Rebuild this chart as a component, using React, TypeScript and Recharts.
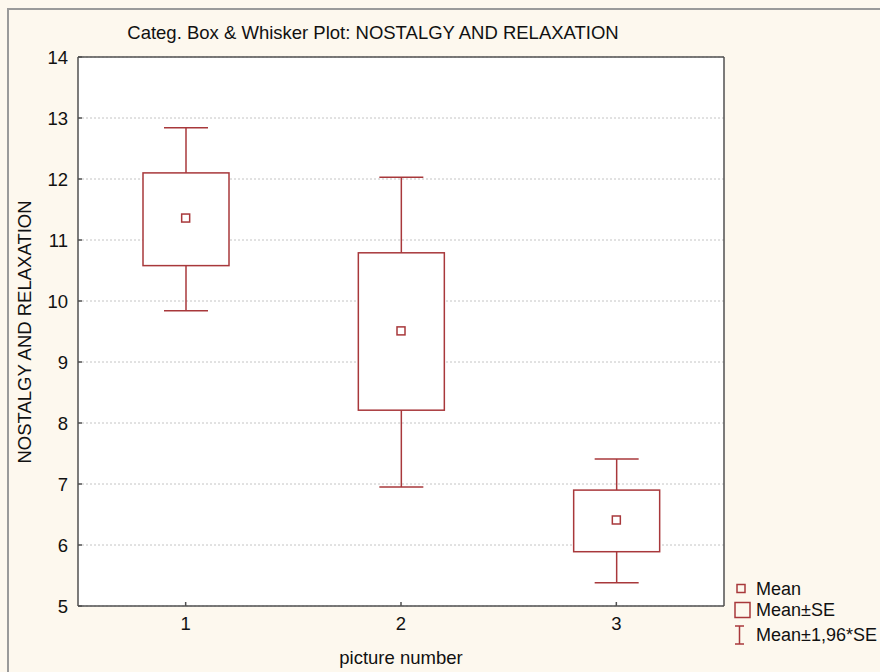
import React from 'react'
import {
	ComposedChart,
	Bar,
	Scatter,
	XAxis,
	YAxis,
	CartesianGrid,
	ReferenceArea,
} from 'recharts'

// values
const categories = ['1', '2', '3']
const means = [11.36, 9.51, 6.41]
const seLow = [10.58, 8.21, 5.89]
const seHigh = [12.1, 10.79, 6.9]
const ciLow = [9.84, 6.95, 5.38]
const ciHigh = [12.84, 12.03, 7.41]
const yTicks = [5, 6, 7, 8, 9, 10, 11, 12, 13, 14]

const rows = categories.map((cat, i) => ({
	cat,
	mean: means[i],
	seLow: seLow[i],
	seHigh: seHigh[i],
	ciLow: ciLow[i],
	ciHigh: ciHigh[i],
	range: [ciLow[i], ciHigh[i]],
}))

const RED = '#a8383b'
const AXIS = '#505050'
const FONT = '"Liberation Sans", Arial, sans-serif'
const BG = '#fdf8ee'
const FS = 18.5

// whisker + SE box, positions derived from the bar's own scaled rect
const BoxShape = (props: any) => {
	const { x, y, width, height, payload } = props
	if (!payload) return null
	const top = Math.min(y, y + height)
	const bottom = Math.max(y, y + height)
	const k = (bottom - top) / (payload.ciHigh - payload.ciLow)
	const yOf = (v: number) => top + (payload.ciHigh - v) * k
	const cx = x + width / 2
	const cap = 22
	const boxTop = yOf(payload.seHigh)
	const boxBottom = yOf(payload.seLow)
	return (
		<g stroke={RED} strokeWidth={1.5} fill="none">
			<line x1={cx - cap} x2={cx + cap} y1={top} y2={top} />
			<line x1={cx} x2={cx} y1={top} y2={boxTop} />
			<rect x={x} y={boxTop} width={width} height={boxBottom - boxTop} fill="#fff" />
			<line x1={cx} x2={cx} y1={boxBottom} y2={bottom} />
			<line x1={cx - cap} x2={cx + cap} y1={bottom} y2={bottom} />
		</g>
	)
}

const MeanShape = (props: any) => {
	const { cx, cy } = props
	return (
		<rect x={cx - 4} y={cy - 4} width={8} height={8} fill="#fff" stroke={RED} strokeWidth={1.5} />
	)
}

const App = () => {
	const tickStyle = { fontSize: FS, fill: '#111', fontFamily: FONT }
	const legendRow = (top: number, icon: React.ReactNode, text: string) => (
		<div style={{ position: 'absolute', left: 732, top, height: 22, display: 'flex', alignItems: 'center' }}>
			<svg width={24} height={22}>{icon}</svg>
			<span style={{ lineHeight: '22px', fontSize: 18, whiteSpace: 'nowrap' }}>{text}</span>
		</div>
	)
	return (
		<div
			style={{
				position: 'absolute',
				left: 0,
				top: 0,
				width: 880,
				height: 672,
				background: BG,
				fontFamily: FONT,
				fontSize: FS,
				color: '#111',
				overflow: 'hidden',
			}}
		>
			{/* window border */}
			<div style={{ position: 'absolute', left: 7, top: 8, right: 0, height: 1.5, background: '#9a9a9a' }} />
			<div style={{ position: 'absolute', left: 7, top: 8, bottom: 0, width: 1.5, background: '#9a9a9a' }} />

			<div style={{ position: 'absolute', left: 0, top: 0 }}>
				<ComposedChart
					width={880}
					height={672}
					data={rows}
					margin={{ top: 56, right: 155, bottom: 36, left: 0 }}
				>
					<CartesianGrid
						vertical={false}
						strokeDasharray="2 2"
						stroke="#c4c4c4"
						fill="#ffffff"
						fillOpacity={1}
					/>
					<XAxis
						dataKey="cat"
						height={30}
						stroke={AXIS}
						strokeWidth={1.5}
						tickSize={-4}
						tickMargin={15}
						tick={tickStyle}
					/>
					<XAxis
						xAxisId="top"
						dataKey="cat"
						orientation="top"
						height={1}
						stroke={AXIS}
						strokeWidth={1.5}
						tickSize={-4}
						tick={false}
					/>
					<YAxis
						width={78}
						domain={[5, 14]}
						ticks={yTicks}
						type="number"
						stroke={AXIS}
						strokeWidth={1.5}
						tickSize={-4}
						tickMargin={14}
						tick={tickStyle}
					/>
					<YAxis
						yAxisId="r"
						orientation="right"
						width={1}
						domain={[5, 14]}
						ticks={yTicks}
						type="number"
						stroke={AXIS}
						strokeWidth={1.5}
						tickSize={-4}
						tick={false}
					/>
					{/* plot frame */}
					<ReferenceArea fill="none" stroke={AXIS} strokeWidth={1.5} ifOverflow="visible" />
					<Bar dataKey="range" barSize={86} shape={(p: any) => <BoxShape {...p} />} isAnimationActive={false} />
					<Scatter dataKey="mean" shape={(p: any) => <MeanShape {...p} />} isAnimationActive={false} />
					{/* invisible series so the top and right frame axes are drawn */}
					<Scatter
						xAxisId="top"
						yAxisId="r"
						dataKey="mean"
						shape={() => <g />}
						legendType="none"
						isAnimationActive={false}
					/>
				</ComposedChart>
			</div>

			{/* title */}
			<div style={{ position: 'absolute', left: 0, width: 746, top: 23, textAlign: 'center', lineHeight: '20px' }}>
				Categ. Box &amp; Whisker Plot: NOSTALGY AND RELAXATION
			</div>
			{/* y label */}
			<div
				style={{
					position: 'absolute',
					left: 25,
					top: 332,
					lineHeight: '20px',
					transform: 'translate(-50%, -50%) rotate(-90deg)',
					whiteSpace: 'nowrap',
				}}
			>
				NOSTALGY AND RELAXATION
			</div>
			{/* x label */}
			<div style={{ position: 'absolute', left: 301, width: 200, top: 648, textAlign: 'center', lineHeight: '20px' }}>
				picture number
			</div>

			{/* legend */}
			{legendRow(
				578,
				<rect x={5} y={6.5} width={8} height={8} fill="none" stroke={RED} strokeWidth={1.5} />,
				'Mean'
			)}
			{legendRow(
				599,
				<rect x={3} y={3.5} width={15} height={15} fill="none" stroke={RED} strokeWidth={1.5} />,
				'Mean±SE'
			)}
			{legendRow(
				624,
				<g stroke={RED} strokeWidth={1.5}>
					<line x1={3} x2={12} y1={2} y2={2} />
					<line x1={7.5} x2={7.5} y1={2} y2={20} />
					<line x1={3} x2={12} y1={20} y2={20} />
				</g>,
				'Mean±1,96*SE'
			)}
		</div>
	)
}

export default App
